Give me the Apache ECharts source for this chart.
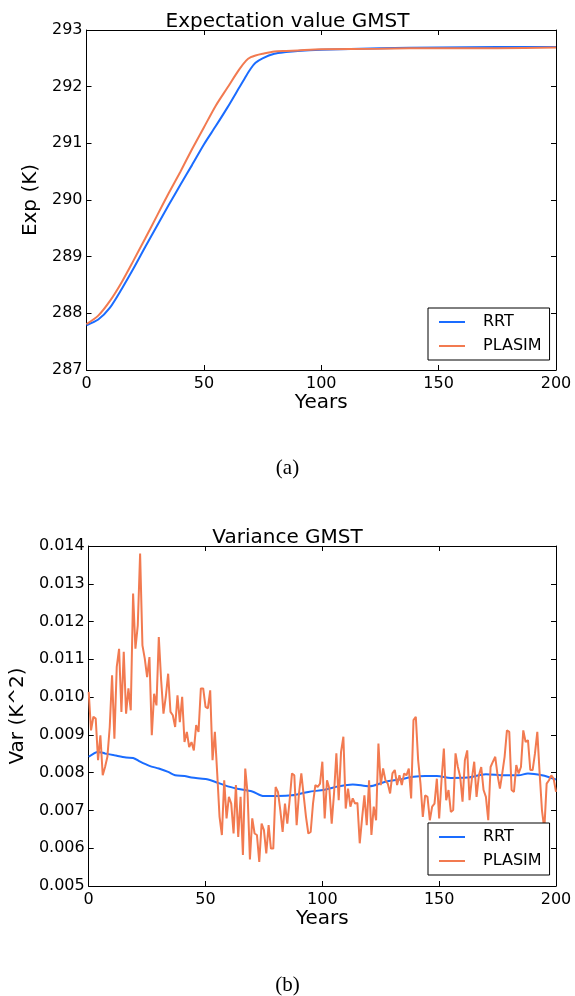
<!DOCTYPE html>
<html>
<head>
<meta charset="utf-8">
<script src="https://cdn.jsdelivr.net/npm/echarts@6/dist/echarts.min.js"></script>
<style>
  html, body { margin: 0; padding: 0; background: #fff; }
  #chart { width: 575px; height: 996px; }
</style>
</head>
<body>
<div id="chart"></div>
<script>
// ---- data ----
var expYears = [0, 5, 10, 15, 20, 25, 30, 35, 40, 45, 50, 55, 60, 65, 68, 70, 72, 75, 80, 85, 90, 100, 125, 150, 175, 200];
var rrtExp = [287.79, 287.89, 288.10, 288.43, 288.79, 289.17, 289.54, 289.91, 290.27, 290.62, 290.98, 291.30,
  291.63, 291.98, 292.19, 292.32, 292.42, 292.50, 292.58, 292.61, 292.63, 292.65, 292.68, 292.69, 292.70, 292.70];
var plasimExp = [287.81, 287.96, 288.22, 288.55, 288.93, 289.32, 289.72, 290.12, 290.50, 290.90, 291.28, 291.66,
  291.98, 292.30, 292.46, 292.52, 292.55, 292.58, 292.62, 292.63, 292.64, 292.66, 292.67, 292.68, 292.68, 292.69];

var rrtVarYears = [0, 4, 7, 11, 16, 19, 22, 26, 30, 34, 37, 41, 44, 50, 54, 58, 63, 70, 75, 81, 87, 94, 101,
  107, 113, 120, 127, 133, 139, 144, 149, 155, 162, 170, 178, 184, 188, 194, 200];
var rrtVar = [0.00842, 0.00855, 0.00851, 0.00846, 0.00840, 0.00839, 0.00829, 0.00818, 0.00811, 0.00802, 0.00793,
  0.00791, 0.00787, 0.00783, 0.00776, 0.00767, 0.00758, 0.00750, 0.00738, 0.00738, 0.00740, 0.00749, 0.00755,
  0.00764, 0.00769, 0.00764, 0.00776, 0.00782, 0.00789, 0.00791, 0.00791, 0.00786, 0.00787, 0.00796, 0.00793,
  0.00793, 0.00798, 0.00793, 0.00782];

// one value per year, 0..200
var plasimVar = [
  0.01014, 0.00912, 0.00948, 0.00943, 0.00833, 0.00899, 0.00793, 0.00815, 0.00842, 0.00921,
  0.01058, 0.00890, 0.01080, 0.01128, 0.00961, 0.01120, 0.00956, 0.01023, 0.00965, 0.01274,
  0.01128, 0.01190, 0.01380, 0.01137, 0.01102, 0.01053, 0.01106, 0.00899, 0.01009, 0.00978,
  0.01159, 0.01045, 0.00956, 0.01001, 0.01062, 0.00961, 0.00952, 0.00921, 0.01005, 0.00934,
  0.01001, 0.00881, 0.00908, 0.00868, 0.00881, 0.00859, 0.00926, 0.00908, 0.01023, 0.01023,
  0.00974, 0.00970, 0.01018, 0.00833, 0.00908, 0.00798, 0.00683, 0.00635, 0.00780, 0.00679,
  0.00736, 0.00718, 0.00639, 0.00767, 0.00630, 0.00736, 0.00582, 0.00811, 0.00745, 0.00570,
  0.00679, 0.00639, 0.00635, 0.00564, 0.00665, 0.00648, 0.00586, 0.00661, 0.00599, 0.00599,
  0.00762, 0.00749, 0.00701, 0.00643, 0.00718, 0.00665, 0.00727, 0.00798, 0.00793, 0.00661,
  0.00745, 0.00798, 0.00740, 0.00683, 0.00639, 0.00643, 0.00718, 0.00767, 0.00762, 0.00771,
  0.00829, 0.00679, 0.00780, 0.00758, 0.00665, 0.00745, 0.00851, 0.00727, 0.00855, 0.00895,
  0.00705, 0.00758, 0.00710, 0.00732, 0.00718, 0.00720, 0.00613, 0.00679, 0.00740, 0.00661,
  0.00780, 0.00635, 0.00710, 0.00674, 0.00877, 0.00767, 0.00811, 0.00780, 0.00771, 0.00745,
  0.00798, 0.00807, 0.00767, 0.00793, 0.00767, 0.00798, 0.00793, 0.00811, 0.00732, 0.00939,
  0.00948, 0.00833, 0.00771, 0.00683, 0.00740, 0.00736, 0.00674, 0.00710, 0.00718, 0.00784,
  0.00679, 0.00780, 0.00864, 0.00727, 0.00754, 0.00696, 0.00701, 0.00851, 0.00815, 0.00789,
  0.00723, 0.00833, 0.00859, 0.00727, 0.00784, 0.00829, 0.00736, 0.00793, 0.00815, 0.00754,
  0.00736, 0.00674, 0.00815, 0.00829, 0.00842, 0.00793, 0.00758, 0.00798, 0.00842, 0.00912,
  0.00908, 0.00754, 0.00749, 0.00820, 0.00798, 0.00815, 0.00912, 0.00881, 0.00886, 0.00807,
  0.00807, 0.00851, 0.00908, 0.00798, 0.00700, 0.00650, 0.00771, 0.00780, 0.00793, 0.00784,
  0.00749
];

var expTicks = [287, 288, 289, 290, 291, 292, 293];
var varTicks = [0.005, 0.006, 0.007, 0.008, 0.009, 0.010, 0.011, 0.012, 0.013, 0.014];
var yearTicks = [0, 50, 100, 150, 200];

var blue = '#1a6cff';
var orange = '#f27a50';
var font = 'DejaVu Sans';

function pairs(xs, ys) {
  return ys.map(function (v, i) { return [xs[i], v]; });
}

var myChart = echarts.init(document.getElementById('chart'));

function xAxisFor(grid, bottom) {
  return {
    type: 'value', gridIndex: grid, position: bottom ? 'bottom' : 'top',
    min: yearTicks[0], max: yearTicks[yearTicks.length - 1], interval: 50,
    name: bottom ? 'Years' : '', nameLocation: 'middle', nameGap: 23,
    nameTextStyle: { fontSize: 20, fontFamily: font, color: '#000' },
    axisLine: { show: true, onZero: false, lineStyle: { color: '#000', width: 1 } },
    axisTick: { show: true, inside: true, length: 5, lineStyle: { color: '#000' } },
    axisLabel: { show: bottom, fontSize: 16, fontFamily: font, color: '#000', margin: 6 },
    splitLine: { show: false }
  };
}

function yAxisFor(grid, left, ticks, name, gap, fmt) {
  return {
    type: 'value', gridIndex: grid, position: left ? 'left' : 'right',
    min: ticks[0], max: ticks[ticks.length - 1],
    interval: +(ticks[1] - ticks[0]).toFixed(6),
    name: left ? name : '', nameLocation: 'middle', nameGap: gap,
    nameTextStyle: { fontSize: 20, fontFamily: font, color: '#000' },
    axisLine: { show: true, onZero: false, lineStyle: { color: '#000', width: 1 } },
    axisTick: { show: true, inside: true, length: 5, lineStyle: { color: '#000' } },
    axisLabel: { show: left, fontSize: 16, fontFamily: font, color: '#000', margin: 4, formatter: fmt },
    splitLine: { show: false }
  };
}

function legendAt(left, top) {
  return {
    data: ['RRT', 'PLASIM'], orient: 'vertical', left: left, top: top,
    backgroundColor: '#fff', borderColor: '#000', borderWidth: 1, borderRadius: 0,
    padding: [6, 8, 6, 11], itemGap: 8, itemWidth: 26, itemHeight: 2, icon: 'rect',
    textStyle: { fontSize: 16, fontFamily: font, color: '#000', padding: [0, 0, 0, 13] },
    selectedMode: false
  };
}

var option = {
  backgroundColor: '#fff',
  animation: false,
  title: [
    { text: 'Expectation value GMST', left: 'center', top: 7, textStyle: { fontSize: 20, fontWeight: 'normal', fontFamily: font, color: '#000' } },
    { text: 'Variance GMST', left: 'center', top: 523, textStyle: { fontSize: 20, fontWeight: 'normal', fontFamily: font, color: '#000' } }
  ],
  grid: [
    { left: 86.5, right: 19, top: 30, height: 340 },
    { left: 86.5, right: 19, top: 546, height: 340 }
  ],
  legend: [legendAt(428, 308), legendAt(428, 823)],
  xAxis: [xAxisFor(0, true), xAxisFor(0, false), xAxisFor(1, true), xAxisFor(1, false)],
  yAxis: [
    yAxisFor(0, true, expTicks, 'Exp (K)', 31),
    yAxisFor(0, false, expTicks, '', 0),
    yAxisFor(1, true, varTicks, 'Var (K^2)', 57, function (v) { return v.toFixed(3); }),
    yAxisFor(1, false, varTicks, '', 0)
  ],
  graphic: [
    { type: 'text', left: 'center', top: 458, style: { text: '(a)', font: '21px "Liberation Serif"', fill: '#000' } },
    { type: 'text', left: 'center', top: 975, style: { text: '(b)', font: '21px "Liberation Serif"', fill: '#000' } }
  ],
  series: [
    { name: 'RRT', type: 'line', xAxisIndex: 0, yAxisIndex: 0, symbol: 'none', smooth: 0.25,
      lineStyle: { color: blue, width: 2 }, itemStyle: { color: blue }, data: pairs(expYears, rrtExp) },
    { name: 'PLASIM', type: 'line', xAxisIndex: 0, yAxisIndex: 0, symbol: 'none', smooth: 0.25,
      lineStyle: { color: orange, width: 2 }, itemStyle: { color: orange }, data: pairs(expYears, plasimExp) },
    { name: 'RRT', type: 'line', xAxisIndex: 2, yAxisIndex: 2, symbol: 'none', smooth: 0.3,
      lineStyle: { color: blue, width: 2 }, itemStyle: { color: blue }, data: pairs(rrtVarYears, rrtVar) },
    { name: 'PLASIM', type: 'line', xAxisIndex: 2, yAxisIndex: 2, symbol: 'none',
      lineStyle: { color: orange, width: 2 }, itemStyle: { color: orange },
      data: plasimVar.map(function (v, i) { return [i, v]; }) }
  ]
};

myChart.setOption(option);
window.addEventListener('resize', function () {
  myChart.resize();
});
</script>
</body>
</html>
